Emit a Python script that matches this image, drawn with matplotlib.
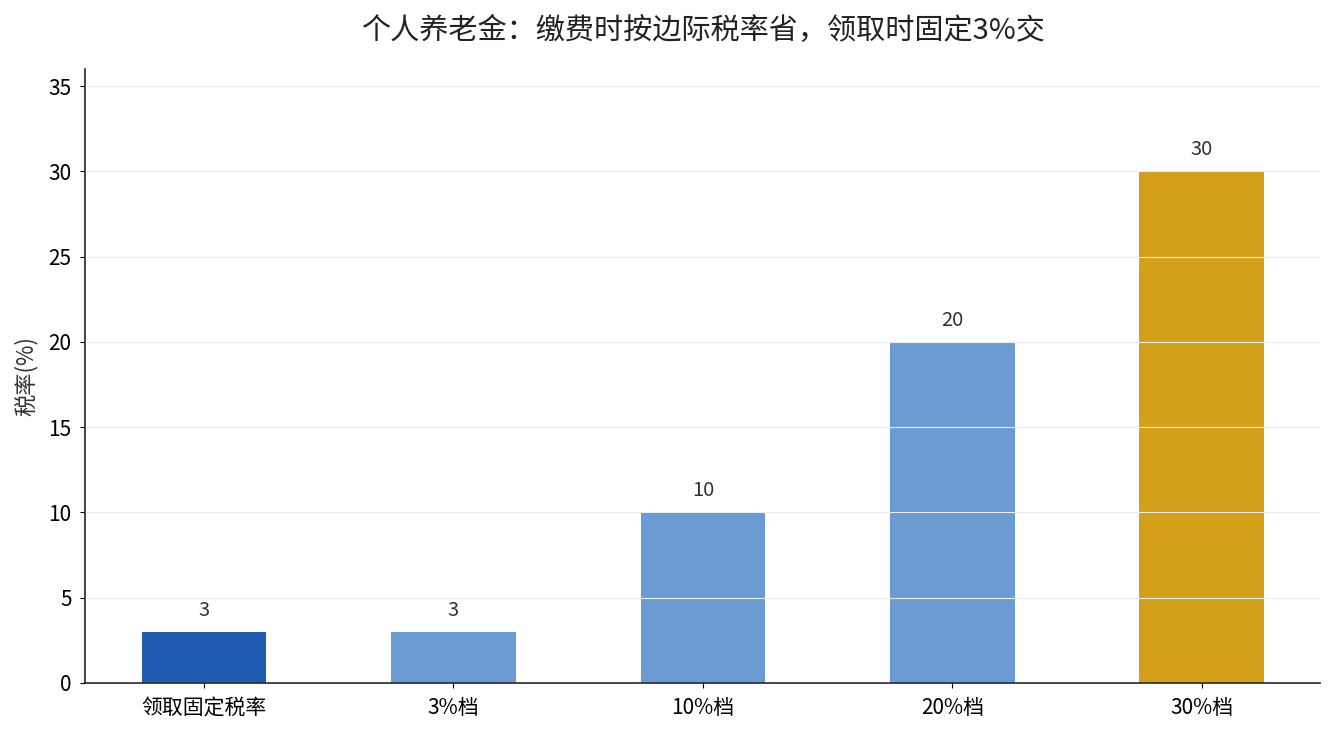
import matplotlib
matplotlib.use('Agg')
import matplotlib.pyplot as plt

plt.rcParams['font.family'] = ['Noto Sans CJK SC', 'DejaVu Sans']

categories = ['领取固定税率', '3%档', '10%档', '20%档', '30%档']
rates = [3, 3, 10, 20, 30]
colors = ['#1f5bb0', '#6b9bd3', '#6b9bd3', '#6b9bd3', '#d4a01a']

fig, ax = plt.subplots(figsize=(13.35, 7.35), dpi=100)
bars = ax.bar(range(len(categories)), rates, width=0.5, color=colors, zorder=1)

for i, v in enumerate(rates):
    ax.text(i, v + 0.65, str(v), ha='center', va='bottom', fontsize=14.5, color='#333333')

ax.set_xticks(range(len(categories)))
ax.set_xticklabels(categories, fontsize=15)
ax.tick_params(axis='x', pad=7)
ax.tick_params(axis='y', labelsize=15, pad=6.5)
ax.set_ylim(0, 36)
ax.set_yticks(range(0, 36, 5))
ax.set_ylabel('税率(%)', fontsize=16, color='#333333', labelpad=8)
ax.set_title('个人养老金：缴费时按边际税率省，领取时固定3%交', fontsize=21, color='#222222', pad=22)

ax.yaxis.grid(True, color='#ececec', linewidth=0.8, zorder=2)
ax.set_axisbelow(False)
for s in ['top', 'right']:
    ax.spines[s].set_visible(False)
for s in ['left', 'bottom']:
    ax.spines[s].set_color('#222222')
    ax.spines[s].set_linewidth(1.2)

plt.subplots_adjust(left=0.064, right=0.989, top=0.906, bottom=0.071)
plt.savefig('out.png', dpi=100)
